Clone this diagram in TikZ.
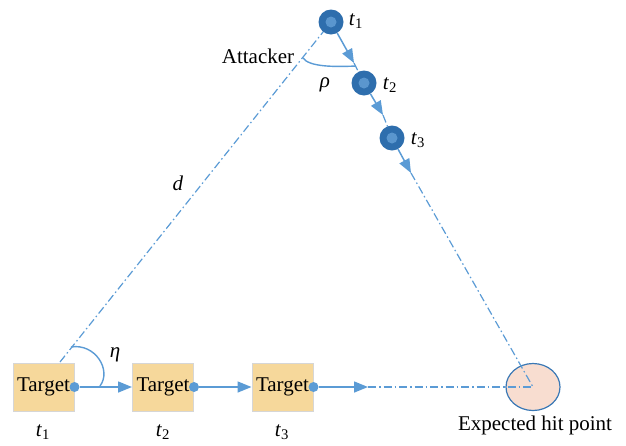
\documentclass[tikz,border=0pt]{standalone}
\usepackage{fontspec}
\setmainfont{Liberation Serif}
\usetikzlibrary{arrows.meta,shapes.geometric}
\definecolor{lineblue}{HTML}{5B9BD5}
\definecolor{darkblue}{HTML}{2E6EAD}
\definecolor{midblue}{HTML}{5A96CE}
\definecolor{boxfill}{HTML}{F6D89B}
\definecolor{boxedge}{HTML}{D6D6D6}
\definecolor{hitfill}{HTML}{F8DDD0}
\definecolor{hitedge}{HTML}{3A78B5}
\newcommand\tsub[1]{\textit{t}\textsubscript{#1}}
\begin{document}
\begin{tikzpicture}[x=1pt,y=-1pt,font=\fontsize{21}{24}\selectfont,
  targetbox/.style={draw=boxedge,fill=boxfill,line width=1pt,minimum width=61pt,minimum height=48pt,inner sep=0pt},
  posdot/.style={circle,fill=lineblue,minimum size=10pt,inner sep=0pt},
  attpos/.style={circle,fill=darkblue,minimum size=25pt,inner sep=0pt,
    path picture={\fill[midblue] (path picture bounding box.center) circle (5.5pt);}},
  move/.style={draw=lineblue,line width=1.5pt,-{Triangle[length=14pt,width=11pt]}},
  dashdot/.style={draw=lineblue,line width=1.2pt,dash pattern=on 8pt off 3pt on 1.5pt off 3pt},
  anglearc/.style={draw=lineblue,line width=1.4pt}]
\useasboundingbox (0,0) rectangle (626,445);

% line of sight from the first target position to the attacker
\coordinate (dstart) at (60,362);
\coordinate (attc) at (331,22);
\draw[dashdot] (dstart) -- (attc);

% target track
\node[targetbox] (b1) at (43.5,387) {Target};
\node[targetbox] (b2) at (163,387) {Target};
\node[targetbox] (b3) at (282.5,387) {Target};
\node[posdot] (p1) at (b1.east) {};
\node[posdot] (p2) at (b2.east) {};
\node[posdot] (p3) at (b3.east) {};
\node (l1) at (43,432) {\tsub{1}};
\node (l2) at (163,432) {\tsub{2}};
\node (l3) at (282,432) {\tsub{3}};

% expected hit point
\node[ellipse,draw=hitedge,fill=hitfill,line width=1.2pt,minimum width=54pt,minimum height=47pt] (hit) at (533,387) {};
\node (hitlbl) at (535,425) {Expected hit point};

% attacker positions
\node[attpos] (a1) at (attc) {};
\node[attpos] (a2) at (364,83) {};
\node[attpos] (a3) at (392,138) {};
\node (la1) at (356,21) {\tsub{1}};
\node (la2) at (390,85) {\tsub{2}};
\node (la3) at (418,140) {\tsub{3}};

% attacker motion
\coordinate (m1) at (354,63);
\coordinate (m2) at (383,115);
\coordinate (m3) at (411,173);
\draw[move] (a1) -- (m1);
\draw[dashdot] (m1) -- (a2);
\draw[move] (a2) -- (m2);
\draw[dashdot] (m2) -- (a3);
\draw[move] (a3) -- (m3);
\draw[dashdot] (m3) -- (hit.center);

% target motion
\coordinate (m4) at (368,387);
\draw[move] (p1) -- (b2.west);
\draw[move] (p2) -- (b3.west);
\draw[move] (p3) -- (m4);
\draw[dashdot] (m4) -- (hit.center);

% angle marks
\coordinate (rhoA) at (303,58);
\coordinate (rhoB) at (356,66);
\draw[anglearc] (rhoA) .. controls (309,67) and (335,67) .. (rhoB);
\coordinate (etaA) at (71,347);
\coordinate (etaB) at (100,386);
\draw[anglearc] (etaA) .. controls (95,343) and (112,370) .. (etaB);

% labels
\node (rho) at (325,85) {\textit{ρ}};
\node (eta) at (115,355) {\textit{η}};
\node (dlbl) at (178,183) {\textit{d}};
\node (att) at (258,56) {Attacker};
\end{tikzpicture}
\end{document}
